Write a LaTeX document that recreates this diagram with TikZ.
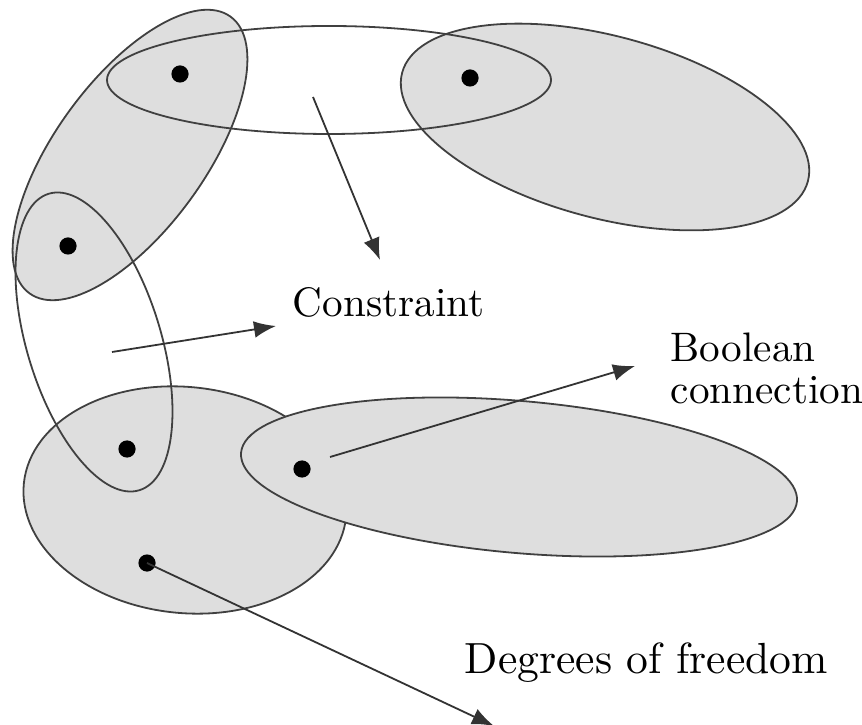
\documentclass[tikz,border=0pt]{standalone}
\usetikzlibrary{arrows.meta}

\tikzset{
  blob/.style={draw=black!75, fill=black!13, line width=0.45pt},
  ring/.style={draw=black!75, line width=0.45pt},
  dot/.style={circle, fill=black, inner sep=0pt, minimum size=4.3pt},
  pointer/.style={draw=black!80, line width=0.45pt, -{Latex[length=5.5pt,width=4.2pt]}},
  lbl/.style={inner sep=0pt, font=\fontsize{10.3}{10.5}\selectfont, align=left}
}

\begin{document}
\begin{tikzpicture}[x=0.25pt, y=0.25pt]
    \useasboundingbox (0,0) rectangle (862,-724);
    \clip (0,0) rectangle (862,-724);

    % 灰色の領域
    \draw[blob, rotate around={54:(130,-155)}] (130,-155) ellipse (171 and 75);
    \draw[blob, rotate around={-15:(605,-127)}] (605,-127) ellipse (210 and 91);
    \draw[blob, rotate around={-6:(185,-500)}] (185,-500) ellipse (162 and 113);
    \draw[blob, rotate around={-5:(519,-477)}] (519,-477) ellipse (279 and 76);

    % 制約の輪
    \draw[ring] (329,-80) ellipse (222 and 54);
    \draw[ring, rotate around={107:(94,-342)}] (94,-342) ellipse (155 and 67);

    % 点
    \node[dot] (dtl) at (180,-74) {};
    \node[dot] (dtr) at (470,-78) {};
    \node[dot] (dml) at (68,-246) {};
    \node[dot] (dbl) at (127,-449) {};
    \node[dot] (dbr) at (302,-469) {};
    \node[dot] (dbot) at (147,-563) {};

    % ラベル
    \node[lbl, anchor=base west] (constraint) at (292,-317) {Constraint};
    \node[lbl, anchor=north west] (boolean) at (670,-332) {Boolean\\connection};
    \node[lbl, anchor=base west, font=\fontsize{10.9}{12}\selectfont] (freedom) at (464,-673) {Degrees of freedom};

    % 矢印
    \coordinate (topstart) at (313,-97);
    \coordinate (topend) at (380,-260);
    \coordinate (sidestart) at (112,-352);
    \coordinate (sideend) at (276,-326);
    \coordinate (boolstart) at (330,-457);
    \coordinate (boolend) at (635,-366);
    \coordinate (dofend) at (494,-726);
    \draw[pointer] (topstart) -- (topend);
    \draw[pointer] (sidestart) -- (sideend);
    \draw[pointer] (boolstart) -- (boolend);
    \draw[pointer] (dbot.center) -- (dofend);
\end{tikzpicture}
\end{document}
